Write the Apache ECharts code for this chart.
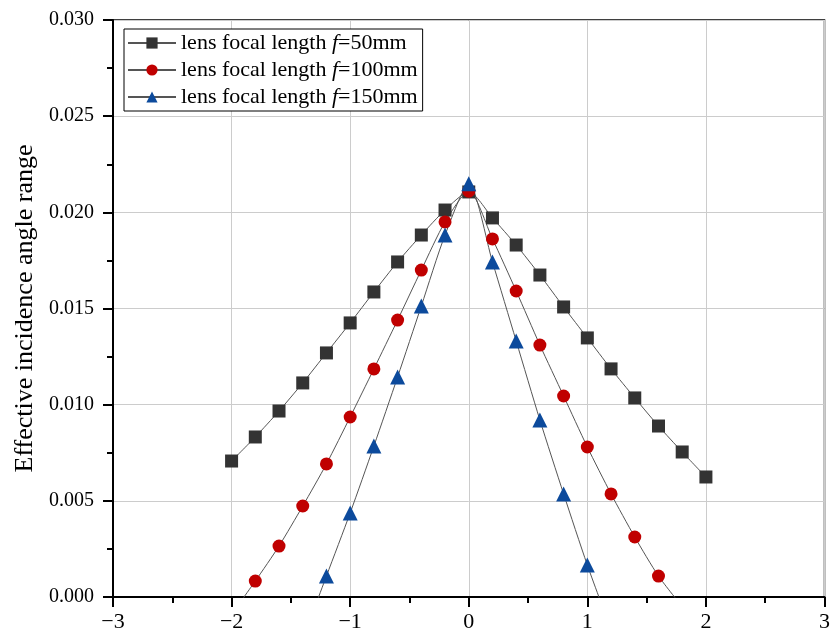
<!DOCTYPE html>
<html>
<head>
<meta charset="utf-8">
<script src="https://cdn.jsdelivr.net/npm/echarts@6/dist/echarts.min.js"></script>
<style>html,body{margin:0;padding:0;background:#fff}#c{width:833px;height:640px}</style>
</head>
<body>
<div id="c"></div>
<script>
const seriesNames = ['=50mm', '=100mm', '=150mm'];
const xTicks = [-3, -2, -1, 0, 1, 2, 3];
const yTicks = [0, 0.005, 0.01, 0.015, 0.02, 0.025, 0.03];

const xF50 = [-2.0,-1.8,-1.6,-1.4,-1.2,-1.0,-0.8,-0.6,-0.4,-0.2,0,0.2,0.4,0.6,0.8,1.0,1.2,1.4,1.6,1.8,2.0];
const yF50 = [0.00707,0.00832,0.00967,0.01113,0.01269,0.01425,0.01586,0.01742,0.01882,0.02012,0.02106,0.01971,0.01830,0.01674,0.01508,0.01347,0.01186,0.01035,0.00889,0.00754,0.00624];

const xF100 = [-2.0,-1.8,-1.6,-1.4,-1.2,-1.0,-0.8,-0.6,-0.4,-0.2,0,0.2,0.4,0.6,0.8,1.0,1.2,1.4,1.6,1.8];
const yF100 = [-0.0009,0.00083,0.00265,0.00473,0.00692,0.00936,0.01186,0.01440,0.01700,0.01950,0.02110,0.01862,0.01591,0.01310,0.01045,0.00780,0.00536,0.00312,0.00109,-0.0005];

const xF150 = [-1.4,-1.2,-1.0,-0.8,-0.6,-0.4,-0.2,0,0.2,0.4,0.6,0.8,1.0,1.2];
const yF150 = [-0.0022,0.00109,0.00437,0.00785,0.01144,0.01513,0.01882,0.02148,0.01742,0.01331,0.00920,0.00536,0.00166,-0.0017];

const pairs = (xs, ys) => xs.map((x, i) => [x, ys[i]]);
const serif = '"Liberation Serif","DejaVu Serif",serif';
const minus = v => String(v).replace('-', '\u2212');

const chart = echarts.init(document.getElementById('c'));
function mk(name, xs, ys, symbol, size, color) {
  return {
    name: name, type: 'line', data: pairs(xs, ys),
    symbol: symbol, symbolSize: size, smooth: 0.25, clip: true,
    lineStyle: { color: '#555', width: 1 },
    itemStyle: { color: color, borderColor: color, borderWidth: 0 },
    emphasis: { disabled: true }
  };
}
chart.setOption({
  animation: false,
  backgroundColor: '#fff',
  grid: { left: 113, right: 3, top: 20, bottom: 43, show: true, borderColor: '#000', borderWidth: 1.5, containLabel: false },
  legend: {
    left: 124, top: 29, orient: 'vertical',
    itemWidth: 48, itemHeight: 14, itemGap: 5,
    borderColor: '#000', borderWidth: 1, padding: [3, 5, 3, 3],
    backgroundColor: '#fff',
    data: seriesNames,
    formatter: n => '{n|lens focal length }{i|f}{n|' + n + '}',
    textStyle: {
      rich: {
        n: { fontFamily: serif, fontSize: 22, color: '#000' },
        i: { fontFamily: serif, fontSize: 22, fontStyle: 'italic', color: '#000' }
      }
    }
  },
  xAxis: {
    type: 'value', min: xTicks[0], max: xTicks[xTicks.length - 1], interval: 1,
    axisLine: { show: true, onZero: false, lineStyle: { color: '#000', width: 2 } },
    axisTick: { show: true, inside: false, length: 10, lineStyle: { color: '#000', width: 2 } },
    minorTick: { show: true, splitNumber: 2, length: 6, lineStyle: { color: '#000', width: 2 } },
    splitLine: { show: true, lineStyle: { color: '#cccccc', width: 1 } },
    axisLabel: { fontFamily: serif, fontSize: 22, color: '#000', margin: 14, formatter: v => minus(v) }
  },
  yAxis: {
    type: 'value', min: yTicks[0], max: yTicks[yTicks.length - 1], interval: 0.005,
    name: 'Effective incidence angle range', nameLocation: 'middle', nameGap: 72,
    nameTextStyle: { fontFamily: serif, fontSize: 26, color: '#000' },
    axisLine: { show: true, onZero: false, lineStyle: { color: '#000', width: 2 } },
    axisTick: { show: true, inside: false, length: 10, lineStyle: { color: '#000', width: 2 } },
    minorTick: { show: true, splitNumber: 2, length: 6, lineStyle: { color: '#000', width: 2 } },
    splitLine: { show: true, lineStyle: { color: '#cccccc', width: 1 } },
    axisLabel: { fontFamily: serif, fontSize: 20, color: '#000', margin: 19, formatter: v => v.toFixed(3) }
  },
  series: [
    mk(seriesNames[0], xF50, yF50, 'rect', 13, '#333333'),
    mk(seriesNames[1], xF100, yF100, 'circle', 13, '#c00000'),
    mk(seriesNames[2], xF150, yF150, 'triangle', 15, '#0c4a9c')
  ]
});
</script>
</body>
</html>
